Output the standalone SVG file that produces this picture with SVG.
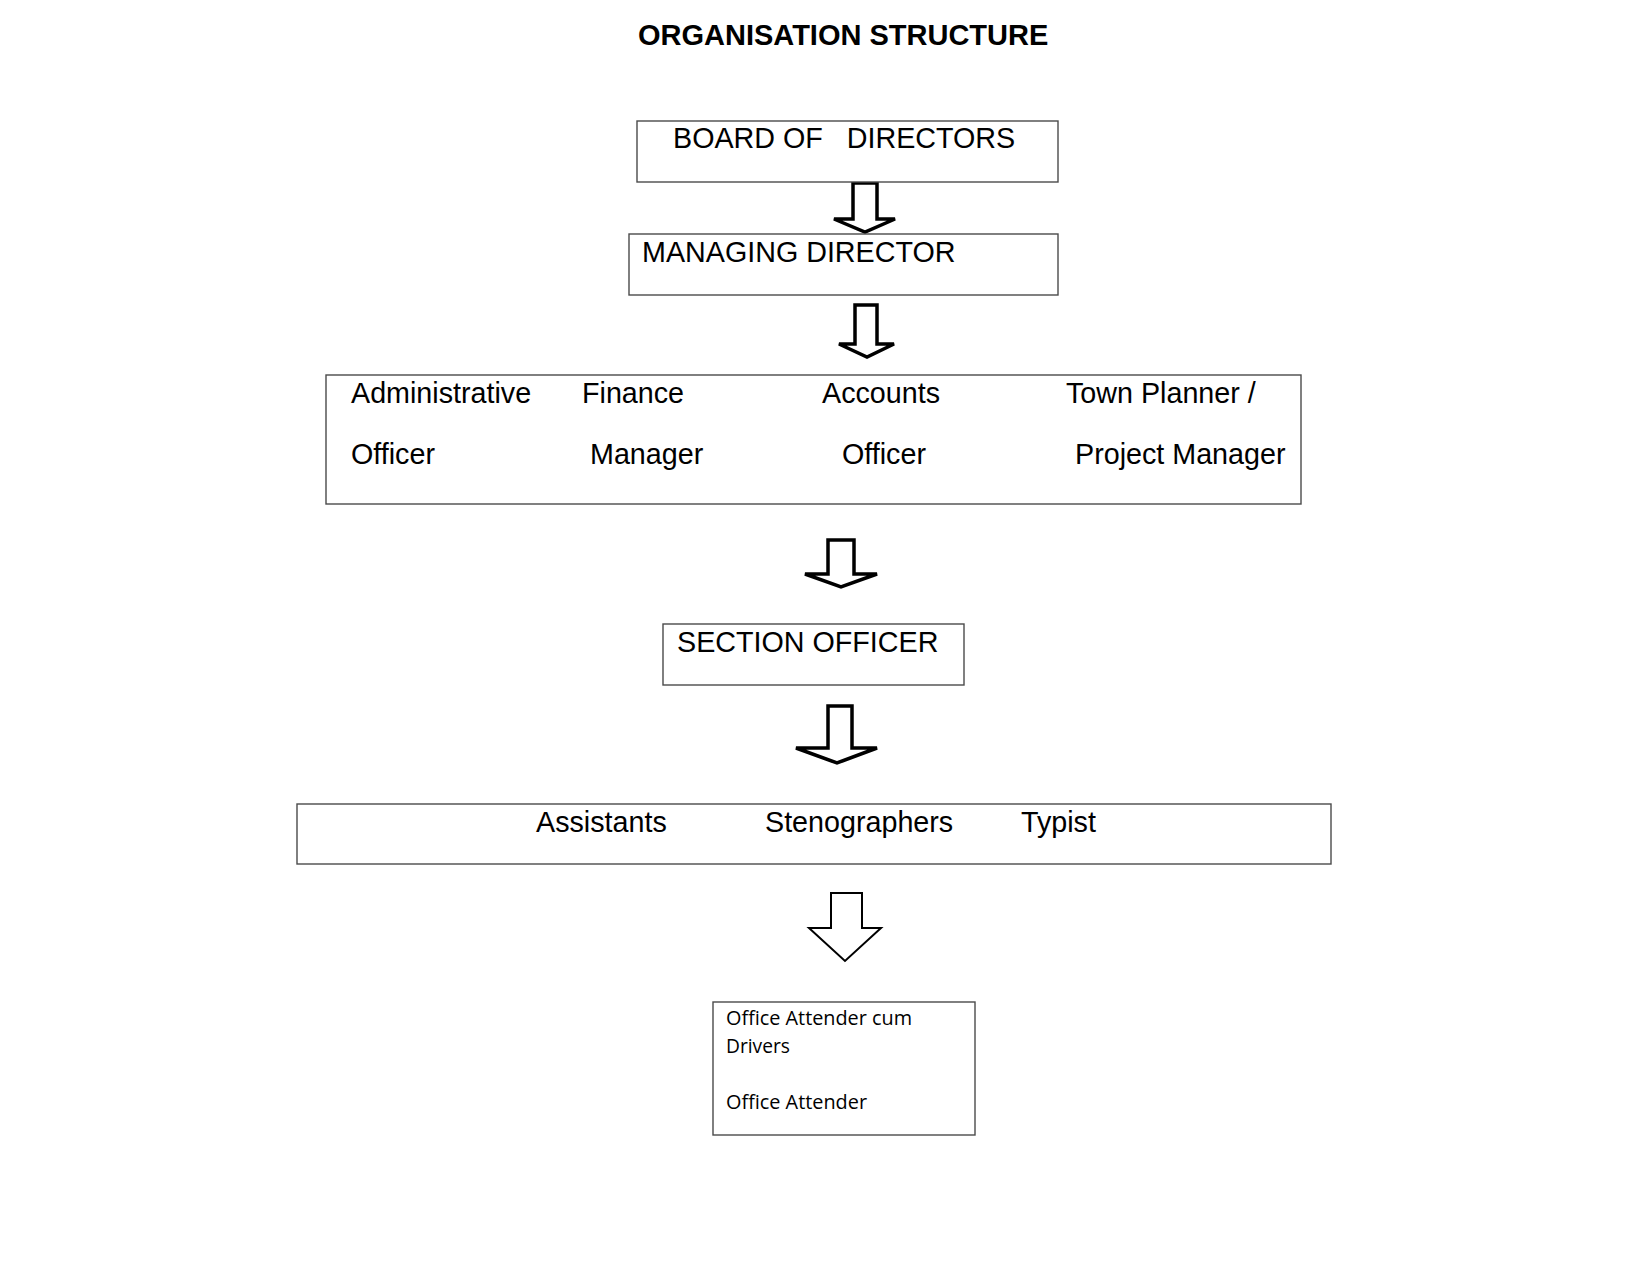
<svg xmlns="http://www.w3.org/2000/svg" width="1650" height="1275" viewBox="0 0 1650 1275">
<style>
  .box { fill: #ffffff; stroke: #4a4a4a; stroke-width: 1.4; }
  .t { font-family: "Liberation Sans", Arial, sans-serif; font-size: 28.7px; fill: #000; }
  .title { font-family: "Liberation Sans", Arial, sans-serif; font-size: 29px; font-weight: bold; fill: #000; }
  .c { font-family: "Open Sans", "Noto Sans", sans-serif; font-size: 20px; fill: #000; }
  .arrow { fill: #ffffff; stroke: #000; stroke-width: 3.5; stroke-linejoin: miter; }
  .arrow-thin { fill: #ffffff; stroke: #000; stroke-width: 2; stroke-linejoin: miter; }
</style>
<rect width="1650" height="1275" fill="#ffffff"/>
<text class="title" x="638" y="45">ORGANISATION STRUCTURE</text>

<g id="connectors">
  <path class="arrow" d="M853,183 L877,183 L877,219 L895,219 L865,232 L834,219 L853,219 Z"/>
  <path class="arrow" d="M855,305 L877,305 L877,344 L894,344 L867,357 L839,344 L855,344 Z"/>
  <path class="arrow" d="M828,540 L854,540 L854,574 L877,574 L841,587 L805,574 L828,574 Z"/>
  <path class="arrow" d="M828,706 L852,706 L852,748 L877,748 L837,763 L796,748 L828,748 Z"/>
  <path class="arrow-thin" d="M831,893 L862,893 L862,928 L881,928 L845,961 L809,928 L831,928 Z"/>
</g>

<g id="board">
  <rect class="box" x="637" y="121" width="421" height="61"/>
  <text class="t" x="673" y="148" xml:space="preserve">BOARD OF   DIRECTORS</text>
</g>

<g id="managing">
  <rect class="box" x="629" y="234" width="429" height="61"/>
  <text class="t" x="642" y="262">MANAGING DIRECTOR</text>
</g>

<g id="officers">
  <rect class="box" x="326" y="375" width="975" height="129"/>
  <text class="t" x="351" y="403">Administrative</text>
  <text class="t" x="582" y="403">Finance</text>
  <text class="t" x="822" y="403">Accounts</text>
  <text class="t" x="1066" y="403">Town Planner /</text>
  <text class="t" x="351" y="464">Officer</text>
  <text class="t" x="590" y="464">Manager</text>
  <text class="t" x="842" y="464">Officer</text>
  <text class="t" x="1075" y="464">Project Manager</text>
</g>

<g id="section">
  <rect class="box" x="663" y="624" width="301" height="61"/>
  <text class="t" x="677" y="652">SECTION OFFICER</text>
</g>

<g id="staff">
  <rect class="box" x="297" y="804" width="1034" height="60"/>
  <text class="t" x="536" y="832">Assistants</text>
  <text class="t" x="765" y="832">Stenographers</text>
  <text class="t" x="1021" y="832">Typist</text>
</g>

<g id="attenders">
  <rect class="box" x="713" y="1002" width="262" height="133"/>
  <text class="c" x="726" y="1025" textLength="186" lengthAdjust="spacingAndGlyphs">Office Attender cum</text>
  <text class="c" x="726" y="1053" textLength="64" lengthAdjust="spacingAndGlyphs">Drivers</text>
  <text class="c" x="726" y="1109" textLength="141" lengthAdjust="spacingAndGlyphs">Office Attender</text>
</g>
</svg>
